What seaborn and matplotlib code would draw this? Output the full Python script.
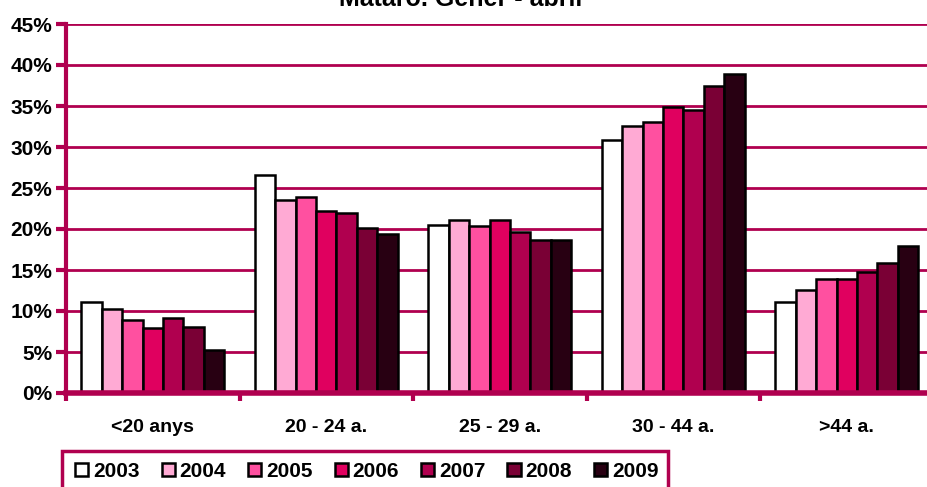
import matplotlib
matplotlib.use("Agg")
import matplotlib.pyplot as plt
import seaborn as sns
import pandas as pd
from matplotlib.ticker import FixedLocator
from matplotlib.patches import Rectangle

categories = ["<20 anys", "20 - 24 a.", "25 - 29 a.", "30 - 44 a.", ">44 a."]
years = ["2003", "2004", "2005", "2006", "2007", "2008", "2009"]
values = {
    "2003": [11.1, 26.6, 20.5, 30.9, 11.1],
    "2004": [10.3, 23.5, 21.1, 32.6, 12.6],
    "2005": [8.9, 23.9, 20.4, 33.0, 13.9],
    "2006": [7.9, 22.2, 21.1, 34.9, 13.9],
    "2007": [9.2, 21.9, 19.6, 34.5, 14.8],
    "2008": [8.1, 20.1, 18.7, 37.4, 15.9],
    "2009": [5.2, 19.4, 18.7, 38.9, 17.9],
}
colors = ["#FFFFFF", "#FFAAD4", "#FF50A0", "#E0005F", "#B0004F", "#7A0035", "#280012"]
title = "Mataró. Gener - abril"
yticks = [0, 5, 10, 15, 20, 25, 30, 35, 40, 45]

rows = []
for y in years:
    for c, v in zip(categories, values[y]):
        rows.append({"cat": c, "year": y, "val": v})
df = pd.DataFrame(rows)

axis_col = "#B0004F"
plt.rcParams["font.family"] = ["Liberation Sans", "DejaVu Sans"]
plt.rcParams["font.weight"] = "bold"

W, H = 928, 487
fig = plt.figure(figsize=(W / 100, H / 100), dpi=100)
ax = fig.add_axes([66 / W, 1 - 393 / H, 867.5 / W, (393 - 24) / H])

sns.barplot(data=df, x="cat", y="val", hue="year", order=categories, hue_order=years,
            palette=colors, width=0.824, edgecolor="black", linewidth=1.8,
            saturation=1, ax=ax, legend=True, zorder=3)

ax.set_xlim(-0.5, 4.5)
ax.set_ylim(0, 45)
ax.set_yticks(yticks)
ax.set_yticklabels([f"{t}%" for t in yticks], fontsize=15, fontweight="bold")
ax.yaxis.grid(True, color=axis_col, linewidth=2, zorder=0)
ax.set_axisbelow(True)
ax.tick_params(axis="y", length=7, width=3, color=axis_col, pad=3)
ax.set_xticks(range(len(categories)))
ax.set_xticklabels(categories, fontsize=14, fontweight="bold")
ax.tick_params(axis="x", which="major", length=0, pad=19)
ax.xaxis.set_minor_locator(FixedLocator([-0.5 + i for i in range(6)]))
ax.tick_params(axis="x", which="minor", length=6, width=3, color=axis_col)
ax.set_xlabel("")
ax.set_ylabel("")
for s in ["top", "right"]:
    ax.spines[s].set_visible(False)
ax.spines["left"].set_color(axis_col)
ax.spines["left"].set_linewidth(3)
ax.spines["bottom"].set_color(axis_col)
ax.spines["bottom"].set_linewidth(4)
ax.spines["bottom"].set_zorder(5)

handles, labels = ax.get_legend_handles_labels()
if ax.get_legend():
    ax.get_legend().remove()

# legend frame (extends past the bottom edge as in the reference)
fig.add_artist(Rectangle((62 / W, 1 - 500 / H), (668 - 62) / W, 49 / H,
                         transform=fig.transFigure, facecolor="white",
                         edgecolor=axis_col, linewidth=2.5, zorder=1))
leg = fig.legend(handles, labels, loc="upper left", bbox_to_anchor=(75 / W, 1 - 462 / H),
                 ncol=7, frameon=False, prop={"weight": "bold", "size": 15},
                 handlelength=0.63, handleheight=0.63, handletextpad=0.24, columnspacing=1.05,
                 borderpad=0, borderaxespad=0)
leg.set_zorder(2)

fig.text(0.496, 1 - 6 / H, title, ha="center", va="baseline", fontsize=18, fontweight="bold")

fig.savefig("out.png", dpi=100)
